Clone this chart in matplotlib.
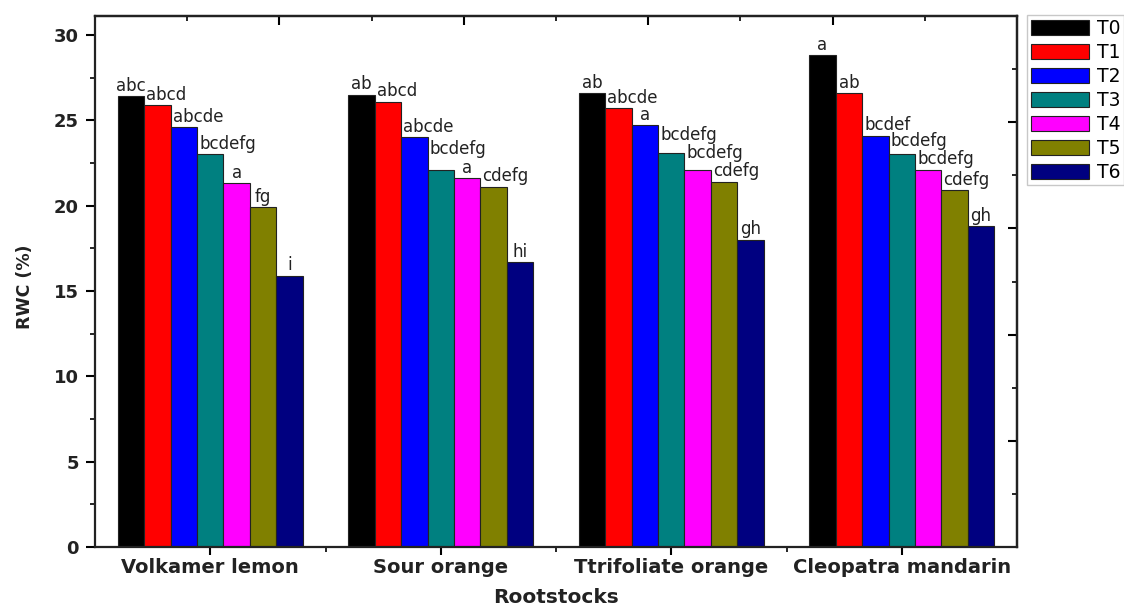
import matplotlib
matplotlib.use("Agg")
import matplotlib.pyplot as plt
from matplotlib.ticker import FixedLocator, MultipleLocator
import numpy as np

categories = ["Volkamer lemon", "Sour orange", "Ttrifoliate orange", "Cleopatra mandarin"]
treatments = ["T0", "T1", "T2", "T3", "T4", "T5", "T6"]
colors = ["#000000", "#FF0000", "#0000FF", "#008080", "#FF00FF", "#808000", "#000080"]

# values[treatment][category]
T0 = [26.4, 26.5, 26.6, 28.8]
T1 = [25.9, 26.1, 25.7, 26.6]
T2 = [24.6, 24.0, 24.7, 24.1]
T3 = [23.0, 22.1, 23.1, 23.0]
T4 = [21.3, 21.6, 22.1, 22.1]
T5 = [19.9, 21.1, 21.4, 20.9]
T6 = [15.9, 16.7, 18.0, 18.8]
values = [T0, T1, T2, T3, T4, T5, T6]

letters_T0 = ["abc", "ab", "ab", "a"]
letters_T1 = ["abcd", "abcd", "abcde", "ab"]
letters_T2 = ["abcde", "abcde", "a", "bcdef"]
letters_T3 = ["bcdefg", "bcdefg", "bcdefg", "bcdefg"]
letters_T4 = ["a", "a", "bcdefg", "bcdefg"]
letters_T5 = ["fg", "cdefg", "cdefg", "cdefg"]
letters_T6 = ["i", "hi", "gh", "gh"]
letters = [letters_T0, letters_T1, letters_T2, letters_T3, letters_T4, letters_T5, letters_T6]

# extra lift (points) for a few crowded letter labels, (treatment, category)
label_raise = {(3, 1): 7.5, (3, 2): 5.5, (4, 2): 4.5, (3, 3): 2.5}

fig = plt.figure(figsize=(11.24, 6.07), dpi=100)
ax = fig.add_axes([95/1124, 1-547/607, (1017-95)/1124, (547-16)/607])

x = np.arange(1, len(categories)+1)
w = 0.1147
for i, (name, col, vals) in enumerate(zip(treatments, colors, values)):
    xs = x + (i - 3) * w
    bars = ax.bar(xs, vals, width=w, color=col, edgecolor="#222222", linewidth=0.8, label=name)
    for j, b in enumerate(bars):
        lab = letters[i][j]
        dy = 1 + label_raise.get((i, j), 0)
        if i == 0 or len(lab) <= 2:
            ax.annotate(lab, (b.get_x() + b.get_width()/2, b.get_height()),
                        xytext=(0, dy), textcoords="offset points",
                        ha="center", va="bottom", fontsize=12, color="#222222")
        else:
            ax.annotate(lab, (b.get_x(), b.get_height()),
                        xytext=(1.5, dy), textcoords="offset points",
                        ha="left", va="bottom", fontsize=12, color="#222222")

ax.set_xlim(0.5, 4.5)
ax.set_ylim(0, 31.11)
ax.set_xticks(x)
ax.set_xticklabels(categories, fontsize=14, fontweight="bold", color="#222222")
ax.xaxis.set_minor_locator(FixedLocator([1.5, 2.5, 3.5]))
ax.yaxis.set_major_locator(MultipleLocator(5))
ax.yaxis.set_minor_locator(MultipleLocator(2.5))
for lab in ax.get_yticklabels():
    lab.set_fontweight("bold")
ax.tick_params(axis="y", which="major", direction="out", length=6.5, width=1.5, labelsize=13, pad=5, labelcolor="#222222")
ax.tick_params(axis="y", which="minor", direction="out", length=3.6, width=1.2)
ax.tick_params(axis="x", which="major", direction="out", length=6, width=1.5, pad=2)
ax.tick_params(axis="x", which="minor", direction="out", length=3.6, width=1.2)
for s in ax.spines.values():
    s.set_linewidth(1.6)
    s.set_color("#222222")

ax.set_ylabel("RWC (%)", fontsize=12.5, fontweight="bold", color="#222222")
ax.yaxis.set_label_coords(-0.066, 0.49)
ax.set_xlabel("Rootstocks", fontsize=14.5, fontweight="bold", color="#222222", va="top")
ax.xaxis.set_label_coords(0.5, -0.078)

# top and right mirrored axes with 10 divisions
top = ax.secondary_xaxis("top", functions=(lambda v: (v - 0.5) * 2.5, lambda u: u / 2.5 + 0.5))
top.set_xticks([2, 4, 6, 8])
top.xaxis.set_minor_locator(FixedLocator([1, 3, 5, 7, 9]))
top.tick_params(axis="x", which="major", direction="in", length=6.5, width=1.5, labeltop=False)
top.tick_params(axis="x", which="minor", direction="in", length=3.6, width=1.2)
top.spines["top"].set_linewidth(1.6)

right = ax.secondary_yaxis("right", functions=(lambda v: v / 31.11 * 10, lambda u: u * 31.11 / 10))
right.set_yticks([2, 4, 6, 8])
right.yaxis.set_minor_locator(FixedLocator([1, 3, 5, 7, 9]))
right.tick_params(axis="y", which="major", direction="in", length=6.5, width=1.5, labelright=False)
right.tick_params(axis="y", which="minor", direction="in", length=3.6, width=1.2)
right.spines["right"].set_linewidth(1.6)

leg = fig.legend(loc="upper left", bbox_to_anchor=(1027/1124, 1 - 15/607), borderaxespad=0,
                 fontsize=13.5, handlelength=3.09, handleheight=0.85, labelspacing=0.265,
                 handletextpad=0.43, borderpad=0.2, fancybox=False, frameon=True)
leg.get_frame().set_edgecolor("#bbbbbb")
leg.get_frame().set_linewidth(1.0)

fig.savefig("out.png", dpi=100)
